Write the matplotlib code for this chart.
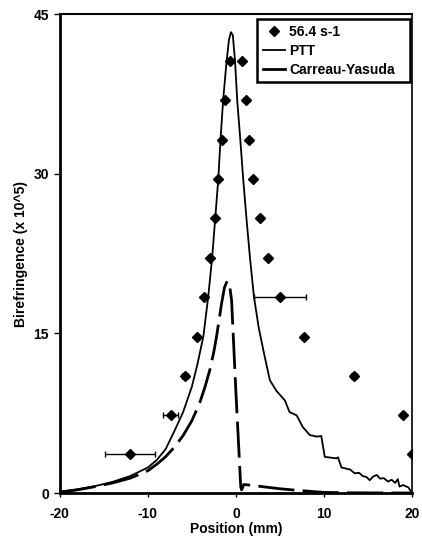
import matplotlib

matplotlib.use("Agg")
import matplotlib.pyplot as plt
from matplotlib.lines import Line2D

plt.rcParams["font.family"] = ["Liberation Sans", "DejaVu Sans"]
plt.rcParams["font.weight"] = "bold"
plt.rcParams["axes.unicode_minus"] = False

# measured points (56.4 s-1)
data_x = [-12.0, -7.4, -5.8, -4.4, -3.6, -3.0, -2.4, -2.0, -1.6, -1.25, -0.7,
          0.65, 1.1, 1.5, 2.0, 2.7, 3.6, 5.05, 7.7, 13.4, 19.0, 20.0]
data_y = [3.7, 7.3, 11.0, 14.7, 18.45, 22.1, 25.8, 29.5, 33.2, 36.9, 40.6,
          40.6, 36.9, 33.2, 29.5, 25.8, 22.1, 18.45, 14.7, 11.0, 7.3, 3.65]
data_xerr = [2.85, 0.85, 0.35, 0.2, 0.1, 0.1, 0.1, 0.1, 0.1, 0.1, 0.1,
             0.1, 0.1, 0.1, 0.1, 0.1, 0.1, 2.97, 0.2, 0.35, 0.2, 0.1]

# PTT model
ptt_x = [-20, -18, -16, -14, -12, -10, -9, -8, -7, -6, -5, -4.4, -3.7, -3.15,
         -2.7, -2.35, -2.0, -1.75, -1.45, -1.1, -0.8, -0.57, -0.35, -0.1, 0.15,
         0.5, 0.83, 1.2, 1.6, 2.05, 2.6, 3.2, 3.86, 4.6, 5.57, 6.1, 6.9, 7.6,
         8.4, 9.2, 9.7, 10.1, 11.0, 11.4, 11.6, 12.0, 13.0, 13.5, 14.0, 14.4,
         14.85, 15.2, 15.6, 16.0, 16.4, 16.8, 17.3, 17.7, 18.1, 18.4, 18.6,
         19.0, 19.6, 20.0]
ptt_y = [0.15, 0.35, 0.65, 1.05, 1.6, 2.4, 3.1, 4.1, 5.8, 7.6, 10.0, 12.0,
         14.7, 18.4, 22.1, 25.8, 29.5, 33.2, 36.9, 40.2, 42.5, 43.3, 43.0, 40.6,
         36.9, 33.2, 29.5, 25.8, 22.1, 18.45, 15.5, 13.1, 10.6, 9.6, 8.7, 7.6,
         7.3, 6.2, 5.45, 5.3, 5.36, 3.4, 3.3, 3.26, 3.35, 2.4, 2.2, 1.85, 1.9,
         1.6, 1.5, 1.2, 1.55, 1.7, 1.35, 1.4, 1.07, 1.25, 0.95, 1.3, 0.6, 0.75,
         0.53, 0.0]

# Carreau-Yasuda model
cy_x = [-20, -18, -16, -14, -12, -10, -9, -8, -7, -6, -5, -4.1, -3.5, -2.95,
        -2.5, -2.2, -1.9, -1.63, -1.3, -1.0, -0.75, -0.49, 0.0, 0.55, 0.65,
        0.9, 1.5, 3.0, 5.0, 7.0, 10.0, 13.0, 20.0]
cy_y = [0.05, 0.3, 0.6, 0.95, 1.4, 2.1, 2.7, 3.4, 4.3, 5.4, 6.8, 8.5, 10.0,
        11.6, 13.3, 14.7, 16.3, 17.8, 19.3, 19.9, 19.7, 18.1, 9.5, 0.6, 0.3,
        0.8, 0.75, 0.6, 0.4, 0.25, 0.06, 0.02, 0.0]


def main():
    fig = plt.figure(figsize=(4.22, 5.39), dpi=100)
    ax = fig.add_axes([0.142, 0.0853, 0.834, 0.8887])

    ax.plot(ptt_x, ptt_y, color="black", lw=1.3, zorder=2)
    ax.plot(cy_x, cy_y, color="black", lw=2.0, dashes=(13, 3), zorder=2)
    ax.errorbar(data_x, data_y, xerr=data_xerr, fmt="D", color="black",
                ms=5.5, elinewidth=1, capsize=2.5, capthick=1, zorder=3)

    ax.set_xlim(-20, 20)
    ax.set_ylim(0, 45)
    ax.set_xticks([-20, -10, 0, 10, 20])
    ax.set_yticks([0, 15, 30, 45])

    ax.set_xlabel("Position (mm)", fontsize=10, fontweight="bold", labelpad=1)
    ax.set_ylabel("Birefringence (x 10^5)", fontsize=10, fontweight="bold",
                  labelpad=4)

    ax.tick_params(axis="both", labelsize=10, width=1, direction="out")
    ax.tick_params(axis="y", length=4, pad=4)
    ax.tick_params(axis="x", length=3, pad=7)
    for lab in ax.get_xticklabels() + ax.get_yticklabels():
        lab.set_fontweight("bold")

    ax.spines["left"].set_linewidth(2)
    ax.spines["bottom"].set_linewidth(2)
    ax.spines["top"].set_linewidth(1.5)
    ax.spines["right"].set_linewidth(1.2)

    handles = [
        Line2D([], [], ls="none", marker="D", color="black", ms=5),
        Line2D([], [], color="black", lw=1.3),
        Line2D([], [], color="black", lw=2.0),
    ]
    labels = ["56.4 s-1", "PTT", "Carreau-Yasuda"]
    leg = ax.legend(handles, labels,
                    loc="upper left", bbox_to_anchor=(0.56, 0.857, 0.434, 0.132),
                    mode="expand", borderaxespad=0, fancybox=False,
                    edgecolor="black", framealpha=1,
                    handlelength=1.6, handletextpad=0.3, labelspacing=0.35,
                    borderpad=0.4, prop={"weight": "bold", "size": 10})
    leg.get_frame().set_linewidth(1.8)

    fig.savefig("out.png", dpi=100)
    plt.close(fig)


if __name__ == "__main__":
    main()
